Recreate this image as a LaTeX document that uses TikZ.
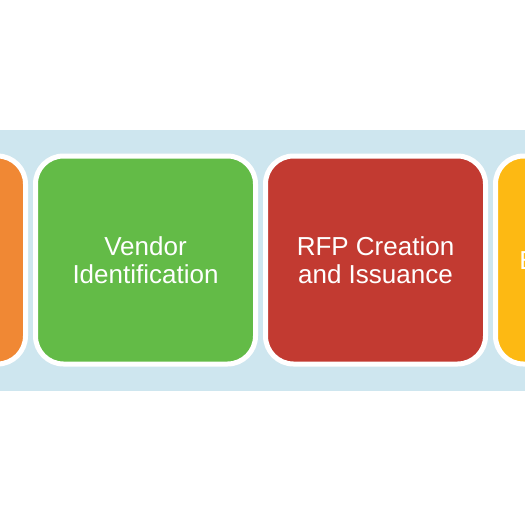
\documentclass[tikz,border=0pt]{standalone}
\usepackage{fontspec}
\setmainfont{Liberation Sans}
\definecolor{bandblue}{HTML}{CEE6EF}
\definecolor{boxorange}{HTML}{F08834}
\definecolor{boxgreen}{HTML}{63BB47}
\definecolor{boxred}{HTML}{C23A31}
\definecolor{boxyellow}{HTML}{FDB913}
\begin{document}
\begin{tikzpicture}[x=1pt,y=-1pt,
  stage/.style={draw=white, line width=5pt, rounded corners=28pt,
    minimum width=220pt, minimum height=208pt, inner sep=0pt,
    text=white, align=center,
    font=\fontsize{26}{27.5}\selectfont}]
\useasboundingbox (0,0) rectangle (525,525);
\fill[white] (0,0) rectangle (525,525);
\fill[bandblue] (0,130) rectangle (525,390.5);
\node[stage, fill=boxorange] (s1) at (-84.5,260) {Requirements\\Identification\\and Analysis};
\node[stage, fill=boxgreen] (s2) at (145.5,260) {Vendor\\Identification};
\node[stage, fill=boxred] (s3) at (375.5,260) {RFP Creation\\and Issuance};
\node[stage, fill=boxyellow] (s4) at (605.5,260) {Proposal\\Evaluation and\\Selection};
\end{tikzpicture}
\end{document}
